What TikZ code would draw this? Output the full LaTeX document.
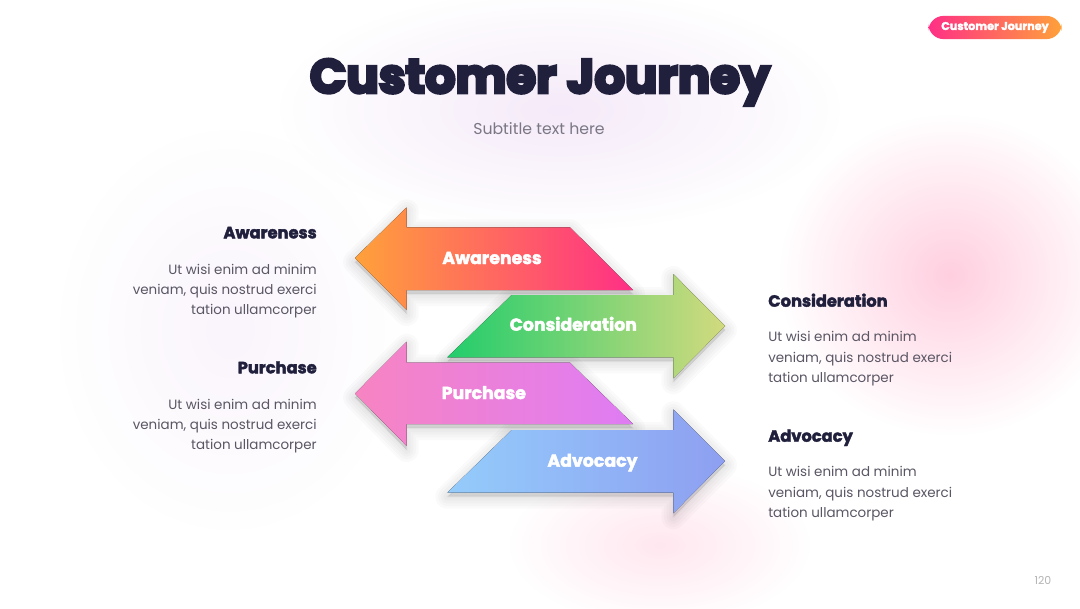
\documentclass[tikz,border=0pt]{standalone}
\usepackage{fontspec}
\setmainfont{Poppins}
\newfontfamily\titlefont[FakeBold=6]{Poppins}
\newfontfamily\heavyfont[FakeBold=2.5]{Poppins}
\usetikzlibrary{positioning,fadings}

\definecolor{ink}{HTML}{20203D}
\definecolor{bodygray}{HTML}{5A5664}
\definecolor{subgray}{HTML}{7B7785}
\definecolor{pagegray}{HTML}{B4B4B4}
\definecolor{blobpink}{HTML}{FFCFE0}
\definecolor{bloblav}{HTML}{F5EAF9}
\definecolor{awL}{HTML}{FFA13A}
\definecolor{awR}{HTML}{FF2F86}
\definecolor{coL}{HTML}{22CD6C}
\definecolor{coR}{HTML}{D2DA7E}
\definecolor{puL}{HTML}{F784C2}
\definecolor{puR}{HTML}{DF7CF4}
\definecolor{adL}{HTML}{94CCFB}
\definecolor{adR}{HTML}{8E9FF1}
\tikzfading[name=glowfade,inner color=transparent!0,outer color=transparent!100]

% arrow outlines (pixel units)
\newcommand{\awarrow}{(355,258) -- (406.7,207.3) -- (406.7,227.3) -- (570,227.3)
  -- (633,290) -- (406.7,290) -- (406.7,310) -- cycle}
\newcommand{\coarrow}{(725,326) -- (673.3,274) -- (673.3,295) -- (511.7,295)
  -- (447.3,357.3) -- (673.3,357.3) -- (673.3,378.3) -- cycle}
\newcommand{\puarrow}{(355,393.5) -- (406.7,341.7) -- (406.7,362.7) -- (570,362.7)
  -- (633,424) -- (406.7,424) -- (406.7,446) -- cycle}
\newcommand{\adarrow}{(725,461) -- (673.3,409.3) -- (673.3,430) -- (511.7,430)
  -- (447.3,492.7) -- (673.3,492.7) -- (673.3,513.3) -- cycle}

\begin{document}
\begin{tikzpicture}[x=0.75pt,y=-0.75pt,
  lbl/.style={font=\heavyfont\bfseries\fontsize{13}{15}\selectfont,text=white,inner sep=0pt},
  head/.style={font=\heavyfont\bfseries\fontsize{12.2}{14}\selectfont,text=ink,inner sep=0pt},
  body/.style={font=\fontsize{10.1}{15.2}\selectfont,text=bodygray,inner sep=0pt},
  softshade/.style={draw=black,fill=black,opacity=0.018,line join=round,yshift=-3pt}]
\useasboundingbox (0,0) rectangle (1080,608);
\fill[white] (0,0) rectangle (1080,608);
% soft background glow
\fill[bloblav,path fading=glowfade] (560,110) ellipse (280 and 120);
\fill[blobpink,path fading=glowfade] (950,275) ellipse (170 and 160);
\fill[blobpink,opacity=0.5,path fading=glowfade] (660,545) ellipse (150 and 80);
\fill[bloblav,opacity=0.5,path fading=glowfade] (230,330) ellipse (170 and 200);

% title block
\node[font=\titlefont\bfseries\fontsize{36}{40}\selectfont,text=ink,anchor=base] (title) at (540,93) {Customer Journey};
\node[font=\fontsize{11.8}{14}\selectfont,text=subgray,anchor=base] (sub) at (539,134) {Subtitle text here};
\node[rounded corners=11.5pt,left color=awR,right color=awL,minimum width=100pt,minimum height=17.4pt,
      inner sep=0pt,text=white,font=\heavyfont\bfseries\fontsize{8.4}{10}\selectfont] (tag) at (995,27.5) {Customer Journey};
\node[font=\fontsize{8.2}{10}\selectfont,text=pagegray,anchor=base] (page) at (1043,584.3) {120};

% shadows first, then the arrows
\foreach \w in {2,6,10,14,18} {
  \path[softshade,line width=\w pt] \awarrow;
  \path[softshade,line width=\w pt] \coarrow;
  \path[softshade,line width=\w pt] \puarrow;
  \path[softshade,line width=\w pt] \adarrow;
}
\fill[left color=awL,right color=awR] \awarrow;
\fill[left color=coL,right color=coR] \coarrow;
\fill[left color=puL,right color=puR] \puarrow;
\fill[left color=adL,right color=adR] \adarrow;
\node[lbl,anchor=base] (awa) at (492,264) {Awareness};
\node[lbl,anchor=base] (con) at (573.3,330.7) {Consideration};
\node[lbl,anchor=base] (pur) at (483.8,399) {Purchase};
\node[lbl,anchor=base] (adv) at (592.5,466.7) {Advocacy};

% side texts
\node[head,anchor=base east] (awh) at (317,238.3) {Awareness};
\node[body,align=right,below=19pt of awh.base east,anchor=north east] (awt) {Ut wisi enim ad minim\\veniam, quis nostrud exerci\\tation ullamcorper};
\node[head,anchor=base east] (puh) at (317,373.3) {Purchase};
\node[body,align=right,below=19pt of puh.base east,anchor=north east] (put) {Ut wisi enim ad minim\\veniam, quis nostrud exerci\\tation ullamcorper};
\node[head,anchor=base west] (coh) at (768,306.7) {Consideration};
\node[body,align=left,below=18.5pt of coh.base west,anchor=north west] (cot) {Ut wisi enim ad minim\\veniam, quis nostrud exerci\\tation ullamcorper};
\node[head,anchor=base west] (adh) at (768,441.7) {Advocacy};
\node[body,align=left,below=18.5pt of adh.base west,anchor=north west] (adt) {Ut wisi enim ad minim\\veniam, quis nostrud exerci\\tation ullamcorper};
\end{tikzpicture}
\end{document}
